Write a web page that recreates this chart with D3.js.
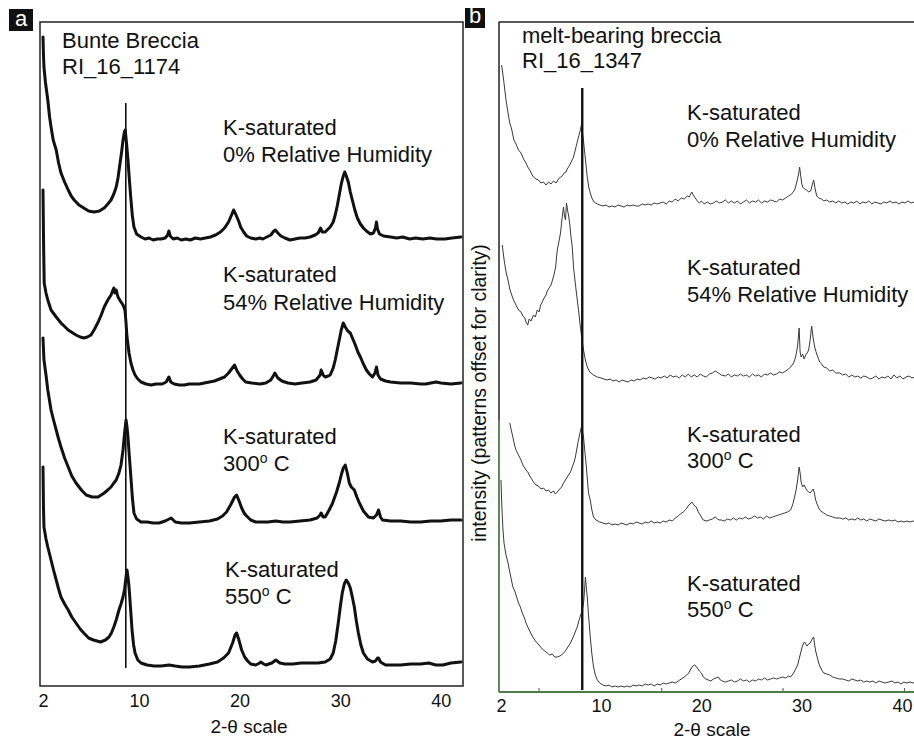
<!DOCTYPE html>
<html>
<head>
<meta charset="utf-8">
<script src="https://cdn.jsdelivr.net/npm/d3@7"></script>
<style>
  html, body { margin: 0; padding: 0; background: #fff; }
  svg { display: block; font-family: "Liberation Sans", Arial, Helvetica, sans-serif; }
</style>
</head>
<body>
<script>
// ---- Data: XRD patterns, [2-theta (deg), intensity above the pattern's own baseline] ----
const thetaTicks = [2, 10, 20, 30, 40];
const minorTicksB = [5, 16, 28.1, 40.2];

const panelTitles = ["Bunte Breccia", "melt-bearing breccia"];
const sampleIds = ["RI_16_1174", "RI_16_1347"];
const treatmentLines = [
  ["K-saturated", "0% Relative Humidity"],
  ["K-saturated", "54% Relative Humidity"],
  ["K-saturated", "300°C"],
  ["K-saturated", "550°C"]
];
const axisTitle = "2-θ scale";
const yTitle = "intensity (patterns offset for clarity)";

// vertical offsets applied to stacked patterns (intensity units)
const offsetsA = [446, 301, 163, 19];
const offsetsB = [485, 310, 167, 5];

// reference line at the 10 Å reflection: [2-theta, low, high]
const refLineA = [8.9, 18, 583];
const refLineB = [8.5, 2, 604];

// Bunte Breccia RI_16_1174
const a0RH = [[2.0,203],[2.04,185],[2.08,173],[2.2,158],[2.4,140],[2.55,123],[2.67,113],[2.85,100],[3.1,90],[3.3,77],[3.5,67],[3.8,58],[4.1,50],[4.35,44],[4.6,40],[5.0,35],[5.4,32],[5.8,29],[6.25,28],[6.7,29],[7.1,32],[7.4,36],[7.67,40],[7.9,46],[8.1,53],[8.25,62],[8.4,75],[8.55,88],[8.67,100],[8.78,108],[8.85,110],[8.95,98],[9.08,80],[9.2,60],[9.33,40],[9.45,24],[9.58,13],[9.8,6],[10.2,3],[10.6,1],[11.0,2],[11.4,0],[11.8,1],[12.2,1],[12.6,2],[12.85,5],[12.97,9],[13.1,4],[13.4,1],[13.8,2],[14.2,0],[14.65,1],[15.1,0],[15.6,2],[16.1,1],[16.6,2],[17.1,3],[17.6,5],[18.1,8],[18.5,12],[18.9,18],[19.2,25],[19.4,30],[19.6,26],[19.9,19],[20.1,13],[20.4,8],[20.7,4],[21.1,2],[21.6,1],[22.0,2],[22.3,1],[22.7,3],[23.1,5],[23.4,9],[23.55,10],[23.8,7],[24.1,4],[24.5,2],[25.0,0],[25.5,1],[26.0,2],[26.5,2],[27.0,3],[27.5,5],[27.8,7],[28.05,12],[28.2,8],[28.5,8],[28.8,11],[29.0,13],[29.3,18],[29.5,25],[29.7,34],[29.9,45],[30.1,56],[30.3,64],[30.45,68],[30.6,64],[30.8,58],[31.0,48],[31.2,40],[31.45,30],[31.7,22],[32.0,16],[32.3,12],[32.6,9],[33.0,6],[33.3,7],[33.5,12],[33.6,18],[33.7,11],[33.9,6],[34.3,4],[35.0,3],[35.6,2],[36.2,3],[36.9,1],[37.5,2],[38.2,1],[38.9,2],[39.6,1],[40.4,1],[41.1,2],[42.0,3]];
const a54RH = [[2.0,195],[2.05,140],[2.1,102],[2.25,92],[2.4,85],[2.67,75],[3.1,68],[3.5,62],[4.1,55],[4.75,50],[5.1,48],[5.4,47],[5.7,48],[6.0,50],[6.3,56],[6.6,63],[6.85,70],[7.1,78],[7.4,85],[7.67,90],[7.8,94],[7.9,97],[8.0,92],[8.1,95],[8.25,88],[8.45,84],[8.67,80],[8.83,75],[8.92,62],[9.0,48],[9.17,32],[9.33,22],[9.5,15],[9.67,10],[9.9,6],[10.2,3],[10.7,1],[11.2,0],[11.7,1],[12.3,1],[12.7,3],[12.97,8],[13.15,3],[13.5,1],[14.0,0],[14.5,0],[15.0,1],[15.5,1],[16.0,1],[16.5,2],[17.0,3],[17.5,4],[18.0,6],[18.5,8],[18.9,12],[19.2,16],[19.5,20],[19.75,14],[20.0,10],[20.3,6],[20.6,3],[21.2,2],[22.0,1],[22.6,2],[23.1,5],[23.4,10],[23.5,12],[23.8,7],[24.2,4],[24.8,2],[25.5,1],[26.2,2],[27.0,3],[27.6,5],[28.0,10],[28.1,15],[28.3,10],[28.5,8],[28.8,9],[29.0,10],[29.3,17],[29.5,25],[29.7,35],[29.9,45],[30.1,55],[30.3,62],[30.4,60],[30.5,58],[30.75,54],[31.0,52],[31.25,46],[31.5,40],[31.75,33],[32.0,28],[32.3,21],[32.6,15],[32.9,11],[33.2,8],[33.45,12],[33.6,18],[33.75,10],[34.0,6],[34.5,4],[35.0,3],[36.0,2],[37.0,2],[38.0,1],[38.5,1],[39.0,2],[39.5,3],[40.0,2],[41.0,1],[42.0,2]];
const a300C = [[2.0,185],[2.08,163],[2.25,148],[2.4,133],[2.67,113],[2.9,102],[3.1,93],[3.3,84],[3.5,76],[3.8,65],[4.1,56],[4.4,47],[4.75,40],[5.2,33],[5.6,28],[6.1,26],[6.6,26],[7.1,30],[7.4,33],[7.67,36],[7.9,40],[8.1,43],[8.33,50],[8.5,58],[8.67,73],[8.8,90],[8.92,103],[9.0,96],[9.08,86],[9.2,66],[9.33,45],[9.45,25],[9.58,10],[9.8,4],[10.2,1],[10.8,1],[11.4,0],[12.0,0],[12.6,2],[13.0,4],[13.2,5],[13.6,1],[14.2,0],[15.0,0],[16.0,1],[17.0,2],[17.8,4],[18.3,7],[18.7,11],[19.1,18],[19.5,26],[19.7,28],[19.95,22],[20.2,15],[20.45,10],[20.6,8],[20.9,5],[21.1,3],[21.6,1],[22.0,1],[22.8,1],[23.6,2],[24.3,1],[25.0,1],[26.0,2],[27.0,3],[27.7,5],[28.0,8],[28.1,10],[28.3,6],[28.5,6],[28.9,13],[29.2,19],[29.6,30],[29.9,40],[30.1,48],[30.3,55],[30.5,58],[30.7,50],[30.9,40],[31.1,36],[31.4,33],[31.65,26],[31.9,20],[32.3,12],[32.8,6],[33.3,5],[33.6,8],[33.8,13],[34.0,6],[34.2,3],[35.0,2],[36.0,2],[37.0,1],[38.0,1],[39.0,2],[40.0,2],[41.0,3],[42.0,3]];
const a550C = [[2.0,200],[2.04,160],[2.08,140],[2.25,128],[2.4,120],[2.67,107],[2.9,96],[3.1,87],[3.3,78],[3.5,70],[3.8,63],[4.1,57],[4.4,50],[4.75,44],[5.1,38],[5.4,34],[5.8,29],[6.2,27],[6.5,26],[6.8,25],[7.2,27],[7.5,30],[7.7,34],[7.9,40],[8.1,47],[8.33,57],[8.5,63],[8.67,70],[8.8,78],[8.92,90],[9.0,97],[9.1,88],[9.17,80],[9.3,58],[9.42,37],[9.55,22],[9.67,14],[9.9,7],[10.2,4],[10.8,2],[11.5,1],[12.2,1],[13.0,2],[13.6,1],[14.3,0],[15.0,0],[16.0,1],[17.0,3],[17.8,5],[18.4,9],[18.9,14],[19.3,24],[19.55,32],[19.7,34],[19.9,28],[20.2,17],[20.5,10],[20.8,6],[21.1,3],[21.6,2],[22.0,4],[22.1,5],[22.4,3],[22.6,2],[23.2,4],[23.6,7],[24.0,4],[24.5,3],[25.3,3],[26.1,4],[27.0,4],[27.8,4],[28.5,5],[29.0,8],[29.3,14],[29.55,26],[29.8,44],[30.0,60],[30.2,74],[30.4,83],[30.6,87],[30.8,84],[31.0,79],[31.2,70],[31.4,60],[31.6,46],[31.8,34],[32.05,22],[32.3,14],[32.7,8],[33.2,5],[33.5,6],[33.7,9],[33.8,9],[34.0,5],[34.5,2],[35.2,2],[36.0,2],[37.0,3],[38.0,3],[38.8,4],[39.5,2],[40.2,2],[41.0,4],[42.0,5]];

// melt-bearing breccia RI_16_1347
const b0RH = [[2.05,142],[2.2,128],[2.4,107],[2.55,95],[2.7,84],[2.85,78],[3.03,67],[3.2,63],[3.4,57],[3.6,54],[3.8,48],[4.0,44],[4.14,40],[4.3,37],[4.45,33],[4.6,30],[4.8,28],[5.0,27],[5.2,24],[5.4,25],[5.6,22],[5.8,25],[6.0,23],[6.2,26],[6.4,24],[6.6,28],[6.76,30],[6.9,31],[7.05,34],[7.2,35],[7.3,38],[7.5,42],[7.65,46],[7.8,50],[8.0,60],[8.2,70],[8.35,77],[8.43,82],[8.52,74],[8.6,66],[8.75,48],[8.9,30],[9.02,20],[9.14,14],[9.3,8],[9.45,5],[9.7,3],[9.9,2],[10.2,1],[10.5,2],[10.8,0],[11.1,1],[11.4,0],[11.7,2],[12.0,1],[12.3,0],[12.6,2],[12.9,1],[13.2,2],[13.5,1],[13.8,1],[14.1,3],[14.4,2],[14.7,3],[15.0,2],[15.3,4],[15.6,3],[15.9,4],[16.2,5],[16.5,3],[16.8,6],[17.1,5],[17.4,8],[17.7,6],[18.0,9],[18.3,8],[18.6,11],[18.8,10],[19.05,15],[19.2,12],[19.4,9],[19.6,6],[19.8,4],[20.0,6],[20.3,3],[20.6,5],[20.9,3],[21.2,4],[21.5,6],[21.8,4],[22.1,5],[22.4,7],[22.7,4],[23.0,6],[23.3,4],[23.6,6],[23.9,3],[24.2,5],[24.5,7],[24.8,4],[25.1,6],[25.4,5],[25.7,7],[26.0,4],[26.3,6],[26.6,5],[26.9,7],[27.2,6],[27.5,5],[27.8,8],[28.1,7],[28.4,9],[28.7,11],[29.0,13],[29.3,17],[29.5,24],[29.7,33],[29.8,40],[29.9,32],[30.0,24],[30.1,20],[30.3,18],[30.5,17],[30.7,15],[30.9,16],[31.05,22],[31.2,27],[31.35,18],[31.5,11],[31.7,9],[32.0,8],[32.2,6],[32.5,7],[32.8,5],[33.1,6],[33.4,4],[33.7,6],[34.0,4],[34.3,5],[34.6,3],[34.9,5],[35.2,4],[35.5,6],[35.8,3],[36.1,5],[36.4,4],[36.7,6],[37.0,3],[37.3,5],[37.6,4],[37.9,3],[38.2,5],[38.5,4],[38.8,6],[39.1,4],[39.4,5],[39.7,3],[40.0,5],[40.3,4],[40.6,6],[40.9,4],[41.2,5],[41.5,4],[41.8,5]];
const b54RH = [[2.1,137],[2.25,122],[2.4,110],[2.56,102],[2.7,93],[2.8,89],[3.0,82],[3.2,77],[3.4,72],[3.6,70],[3.75,66],[3.9,64],[4.0,60],[4.14,57],[4.25,63],[4.4,61],[4.6,67],[4.75,65],[4.9,72],[5.05,70],[5.17,77],[5.3,80],[5.45,84],[5.6,87],[5.7,91],[5.85,94],[6.0,97],[6.1,101],[6.25,108],[6.37,115],[6.5,132],[6.63,140],[6.76,149],[6.88,163],[7.0,175],[7.08,166],[7.16,162],[7.24,179],[7.32,172],[7.4,167],[7.5,158],[7.6,145],[7.7,135],[7.8,115],[7.95,98],[8.1,82],[8.2,72],[8.35,55],[8.5,40],[8.6,32],[8.75,22],[8.9,15],[9.1,10],[9.4,7],[9.7,5],[10.0,4],[10.3,3],[10.6,2],[10.9,3],[11.2,1],[11.5,2],[11.8,0],[12.1,2],[12.4,1],[12.7,0],[13.0,2],[13.3,1],[13.6,3],[13.9,2],[14.2,4],[14.5,3],[14.8,5],[15.1,4],[15.4,3],[15.7,5],[16.0,4],[16.3,6],[16.6,4],[16.9,7],[17.2,5],[17.5,6],[17.8,4],[18.1,7],[18.4,5],[18.7,8],[19.0,5],[19.3,7],[19.6,5],[19.9,8],[20.2,6],[20.5,5],[20.8,8],[21.1,9],[21.4,11],[21.7,9],[22.0,7],[22.4,6],[22.7,8],[23.0,5],[23.3,7],[23.6,6],[23.9,8],[24.2,6],[24.5,7],[24.8,5],[25.1,8],[25.4,6],[25.7,7],[26.0,5],[26.3,8],[26.6,7],[26.9,9],[27.2,7],[27.5,8],[27.8,10],[28.1,9],[28.4,11],[28.7,13],[28.9,15],[29.2,19],[29.4,25],[29.6,36],[29.75,54],[29.85,30],[29.95,25],[30.1,28],[30.25,23],[30.4,27],[30.55,29],[30.7,32],[30.85,42],[31.0,56],[31.15,44],[31.3,35],[31.5,28],[31.65,24],[31.8,20],[32.0,18],[32.2,15],[32.5,14],[32.8,11],[33.1,12],[33.4,9],[33.8,9],[34.1,7],[34.4,8],[34.7,5],[35.0,7],[35.3,5],[35.6,6],[35.9,4],[36.2,6],[36.5,5],[36.8,3],[37.1,4],[37.4,6],[37.7,3],[38.0,5],[38.3,4],[38.6,6],[38.9,3],[39.2,7],[39.5,4],[39.8,6],[40.1,3],[40.4,5],[40.7,6],[41.0,4],[41.3,5],[41.6,3],[41.9,5]];
const b300C = [[2.7,102],[2.82,95],[2.95,88],[3.08,80],[3.2,75],[3.4,70],[3.6,65],[3.75,60],[3.9,57],[4.0,55],[4.14,53],[4.3,49],[4.45,46],[4.6,43],[4.8,40],[5.0,39],[5.2,36],[5.4,37],[5.6,34],[5.8,35],[6.0,32],[6.2,34],[6.35,31],[6.5,33],[6.7,36],[6.85,38],[7.0,42],[7.15,45],[7.3,48],[7.45,51],[7.56,53],[7.7,58],[7.85,63],[7.95,68],[8.05,75],[8.15,82],[8.25,88],[8.35,94],[8.43,98],[8.52,93],[8.6,88],[8.72,72],[8.83,58],[8.92,44],[9.0,32],[9.14,25],[9.27,15],[9.4,8],[9.6,5],[9.9,3],[10.2,2],[10.5,1],[10.8,2],[11.1,0],[11.4,1],[11.7,0],[12.0,2],[12.3,1],[12.6,0],[12.9,2],[13.2,1],[13.5,3],[13.8,2],[14.1,1],[14.4,3],[14.7,2],[15.0,4],[15.3,2],[15.6,3],[15.9,2],[16.2,4],[16.5,3],[16.8,5],[17.1,4],[17.4,7],[17.7,9],[17.9,11],[18.2,13],[18.5,16],[18.75,20],[18.9,21],[19.05,23],[19.2,21],[19.35,19],[19.5,18],[19.7,13],[19.9,10],[20.05,7],[20.2,5],[20.5,4],[20.8,5],[21.1,6],[21.4,8],[21.6,6],[21.8,5],[22.0,5],[22.3,4],[22.6,6],[22.9,5],[23.2,7],[23.5,5],[23.8,7],[24.1,6],[24.4,8],[24.7,6],[25.0,7],[25.3,9],[25.6,7],[25.9,8],[26.2,6],[26.5,9],[26.8,7],[27.1,8],[27.4,9],[27.7,10],[28.0,11],[28.3,12],[28.6,13],[28.9,15],[29.1,20],[29.3,28],[29.45,35],[29.6,45],[29.75,58],[29.85,52],[29.95,43],[30.1,38],[30.25,40],[30.35,38],[30.5,35],[30.7,33],[30.85,32],[31.0,34],[31.15,36],[31.25,33],[31.4,25],[31.5,22],[31.7,17],[31.9,14],[32.2,12],[32.5,10],[32.8,9],[33.1,8],[33.4,7],[33.8,7],[34.1,6],[34.4,7],[34.7,5],[35.0,6],[35.3,5],[35.6,7],[35.9,5],[36.2,6],[36.5,4],[36.8,6],[37.1,5],[37.4,4],[37.7,6],[38.0,5],[38.3,4],[38.7,5],[39.0,4],[39.3,5],[39.6,3],[39.9,4],[40.2,3],[40.5,4],[40.8,3],[41.1,4],[41.4,3],[41.8,4]];
const b550C = [[2.0,207],[2.04,190],[2.08,177],[2.16,157],[2.24,144],[2.4,132],[2.56,124],[2.75,112],[2.95,100],[3.1,96],[3.25,90],[3.4,84],[3.55,80],[3.7,74],[3.85,70],[4.0,64],[4.14,60],[4.3,56],[4.45,52],[4.6,49],[4.75,46],[4.9,44],[5.1,41],[5.3,38],[5.5,36],[5.7,34],[5.9,32],[6.1,33],[6.3,30],[6.5,30],[6.7,31],[6.85,32],[7.0,34],[7.15,36],[7.3,39],[7.45,42],[7.56,44],[7.7,48],[7.85,52],[8.0,57],[8.1,60],[8.25,67],[8.43,74],[8.55,80],[8.62,86],[8.7,100],[8.75,110],[8.82,100],[8.9,90],[9.0,72],[9.14,50],[9.27,33],[9.4,20],[9.55,12],[9.7,7],[9.9,4],[10.2,2],[10.5,1],[10.8,2],[11.1,0],[11.4,1],[11.7,0],[12.0,1],[12.3,0],[12.6,1],[12.9,0],[13.2,2],[13.5,1],[13.8,2],[14.1,1],[14.4,3],[14.7,2],[15.0,3],[15.3,1],[15.6,3],[15.9,2],[16.2,4],[16.5,3],[16.8,4],[17.1,5],[17.4,4],[17.7,6],[18.0,8],[18.3,10],[18.55,12],[18.75,14],[18.95,18],[19.15,21],[19.35,22],[19.45,21],[19.6,19],[19.8,16],[20.0,14],[20.2,10],[20.45,8],[20.7,7],[20.95,6],[21.2,8],[21.45,9],[21.7,10],[21.9,7],[22.1,6],[22.4,5],[22.7,6],[23.0,7],[23.3,5],[23.6,6],[23.9,8],[24.2,6],[24.5,7],[24.8,5],[25.1,7],[25.4,6],[25.7,8],[26.0,7],[26.3,9],[26.6,7],[26.9,8],[27.2,9],[27.5,8],[27.8,9],[28.1,10],[28.4,9],[28.7,11],[28.9,10],[29.2,14],[29.4,18],[29.6,22],[29.75,28],[29.9,34],[30.05,40],[30.2,44],[30.3,45],[30.45,42],[30.55,41],[30.7,43],[30.85,44],[31.0,47],[31.1,49],[31.2,50],[31.3,42],[31.4,36],[31.55,30],[31.7,24],[31.85,20],[32.0,17],[32.2,14],[32.5,13],[32.8,12],[33.1,10],[33.4,9],[33.8,8],[34.1,8],[34.4,7],[34.7,6],[35.0,8],[35.3,7],[35.6,6],[35.9,7],[36.2,5],[36.5,6],[36.8,5],[37.1,6],[37.4,4],[37.7,6],[38.0,5],[38.3,4],[38.7,5],[39.0,6],[39.3,4],[39.6,5],[39.9,3],[40.2,5],[40.5,4],[40.8,5],[41.1,4],[41.4,5],[41.8,4]];

const patternsA = [a0RH, a54RH, a300C, a550C];
const patternsB = [b0RH, b54RH, b300C, b550C];

// ---- Layout ----
const W = 914, H = 740;
const FONT = '"Liberation Sans", Arial, Helvetica, sans-serif';
const green = "#4e7a4c";

const svg = d3.select("body").append("svg")
  .attr("width", W).attr("height", H)
  .attr("viewBox", `0 0 ${W} ${H}`);

// panel geometry (pixels)
const A = { left: 40, right: 463, top: 22, bottom: 686 };
const B = { left: 499, top: 22, bottom: 692 };

const xA = d3.scaleLinear().domain([2, 10, 42]).range([43, 139, 461]);
const yA = d3.scaleLinear().domain([0, 664]).range([A.bottom, A.top]);
const xB = d3.scaleLinear().domain([2, 10, 42]).range([501, 601, 922]);
const yB = d3.scaleLinear().domain([0, 670]).range([B.bottom, B.top]);

// treatment label positions: [x, first baseline, second baseline]
const labelPosA = [[223, 135, 162], [223, 282, 310], [223, 444, 471], [225, 577, 604]];
const labelPosB = [[687, 120, 147], [687, 275, 302], [687, 442, 468], [687, 591, 617]];

const defs = svg.append("defs");
defs.append("clipPath").attr("id", "clipA").append("rect")
  .attr("x", A.left).attr("y", A.top).attr("width", A.right - A.left).attr("height", A.bottom - A.top);
defs.append("clipPath").attr("id", "clipB").append("rect")
  .attr("x", B.left).attr("y", B.top).attr("width", W - B.left).attr("height", B.bottom - B.top);

function drawTreatment(g, lines, pos) {
  const [x, y1, y2] = pos;
  g.append("text").attr("x", x).attr("y", y1).attr("font-size", 22).attr("fill", "#111").text(lines[0]);
  const t = g.append("text").attr("x", x).attr("y", y2).attr("font-size", 22).attr("fill", "#111");
  const m = lines[1].match(/^(\d+)°(C)$/);
  if (m) {
    t.append("tspan").text(m[1]);
    t.append("tspan").attr("font-size", 14).attr("dy", -8).text("o");
    t.append("tspan").attr("dy", 8).text(" " + m[2]);
  } else {
    t.text(lines[1]);
  }
}

function panelTag(x, y, w, h, letter) {
  svg.append("rect").attr("x", x).attr("y", y).attr("width", w).attr("height", h).attr("fill", "#111");
  svg.append("text").attr("x", x + w / 2).attr("y", y + h - 5).attr("text-anchor", "middle")
    .attr("font-size", 22).attr("fill", "#fff").text(letter);
}

// ---------- Panel a ----------
const gA = svg.append("g");
gA.append("rect").attr("x", A.left).attr("y", A.top)
  .attr("width", A.right - A.left).attr("height", A.bottom - A.top)
  .attr("fill", "none").attr("stroke", "#222").attr("stroke-width", 1.5);

gA.append("line")
  .attr("x1", xA(refLineA[0])).attr("x2", xA(refLineA[0]))
  .attr("y1", yA(refLineA[1])).attr("y2", yA(refLineA[2]))
  .attr("stroke", "#111").attr("stroke-width", 1.6);

const tracesA = gA.append("g").attr("clip-path", "url(#clipA)");
patternsA.forEach((p, i) => {
  const line = d3.line().x(d => xA(d[0])).y(d => yA(d[1] + offsetsA[i]));
  tracesA.append("path").datum(p).attr("d", line)
    .attr("fill", "none").attr("stroke", "#111").attr("stroke-width", 3)
    .attr("stroke-linejoin", "round").attr("stroke-linecap", "round");
});

const axA = d3.axisBottom(xA).tickValues(thetaTicks).tickSize(0).tickPadding(8).tickFormat(d3.format("d"));
const gAxA = gA.append("g").attr("transform", `translate(0,${A.bottom})`).call(axA);
gAxA.select(".domain").remove();
gAxA.selectAll("text").attr("font-size", 18).attr("font-family", FONT).attr("fill", "#111");

gA.append("text").attr("x", 249).attr("y", 733).attr("text-anchor", "middle")
  .attr("font-size", 19).attr("fill", "#111").text(axisTitle);

gA.append("text").attr("x", 62).attr("y", 48).attr("font-size", 22).attr("fill", "#111").text(panelTitles[0]);
gA.append("text").attr("x", 62).attr("y", 74).attr("font-size", 22).attr("fill", "#111").text(sampleIds[0]);
treatmentLines.forEach((l, i) => drawTreatment(gA, l, labelPosA[i]));

panelTag(9, 9, 24, 22, "a");

// ---------- Panel b ----------
const gB = svg.append("g");
gB.append("line").attr("x1", B.left).attr("x2", W).attr("y1", B.top).attr("y2", B.top)
  .attr("stroke", "#222").attr("stroke-width", 1.5);
gB.append("line").attr("x1", B.left).attr("x2", B.left).attr("y1", B.top).attr("y2", 420)
  .attr("stroke", "#222").attr("stroke-width", 1.5);
gB.append("line").attr("x1", B.left).attr("x2", B.left).attr("y1", 420).attr("y2", B.bottom)
  .attr("stroke", green).attr("stroke-width", 1.8);
gB.append("line").attr("x1", B.left).attr("x2", W).attr("y1", B.bottom).attr("y2", B.bottom)
  .attr("stroke", green).attr("stroke-width", 1.8);

const tracesB = gB.append("g").attr("clip-path", "url(#clipB)");
patternsB.forEach((p, i) => {
  const line = d3.line().x(d => xB(d[0])).y(d => yB(d[1] + offsetsB[i]));
  tracesB.append("path").datum(p).attr("d", line)
    .attr("fill", "none").attr("stroke", "#3a3a3a").attr("stroke-width", 1)
    .attr("stroke-linejoin", "round");
});

gB.append("line")
  .attr("x1", xB(refLineB[0])).attr("x2", xB(refLineB[0]))
  .attr("y1", yB(refLineB[1])).attr("y2", yB(refLineB[2]))
  .attr("stroke", "#111").attr("stroke-width", 2.4);

// small inner ticks on the b axis
const minorAx = d3.axisBottom(xB).tickValues(minorTicksB).tickSize(-3).tickFormat("");
const gMinor = gB.append("g").attr("transform", `translate(0,${B.bottom - 1})`).call(minorAx);
gMinor.select(".domain").remove();
gMinor.selectAll("line").attr("stroke", "#555");

const axB = d3.axisBottom(xB).tickValues(thetaTicks).tickSize(0).tickPadding(7).tickFormat(d3.format("d"));
const gAxB = gB.append("g").attr("transform", `translate(0,${B.bottom})`).call(axB);
gAxB.select(".domain").remove();
gAxB.selectAll("text").attr("font-size", 18).attr("font-family", FONT).attr("fill", "#111");

gB.append("text").attr("x", 712).attr("y", 736).attr("text-anchor", "middle")
  .attr("font-size", 19).attr("fill", "#111").text(axisTitle);

gB.append("text").attr("transform", "translate(486,393) rotate(-90)").attr("text-anchor", "middle")
  .attr("font-size", 19.5).attr("fill", "#111").text(yTitle);

gB.append("text").attr("x", 522).attr("y", 43).attr("font-size", 22).attr("fill", "#111").text(panelTitles[1]);
gB.append("text").attr("x", 522).attr("y", 68).attr("font-size", 22).attr("fill", "#111").text(sampleIds[1]);
treatmentLines.forEach((l, i) => drawTreatment(gB, l, labelPosB[i]));

panelTag(465, 8, 20, 20, "b");
</script>
</body>
</html>
